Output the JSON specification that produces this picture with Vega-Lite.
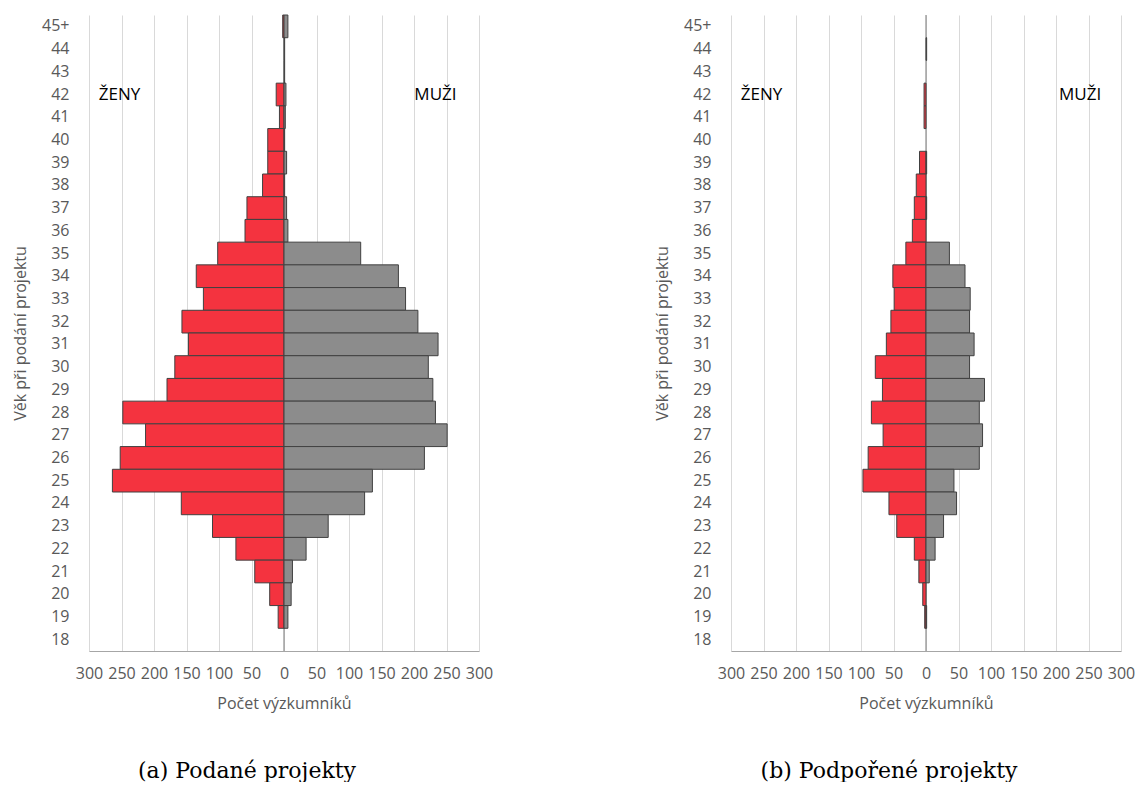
{
  "$schema": "https://vega.github.io/schema/vega-lite/v6.json",
  "background": "white",
  "padding": {"left": 12, "top": 14, "right": 5, "bottom": 0},
  "spacing": 161,
  "datasets": {
    "podane": [
      {"vek": "45+", "zeny": -2, "muzi": 6},
      {"vek": "44", "zeny": 0, "muzi": 1},
      {"vek": "43", "zeny": 0, "muzi": 1},
      {"vek": "42", "zeny": -12, "muzi": 3},
      {"vek": "41", "zeny": -7, "muzi": 2},
      {"vek": "40", "zeny": -25, "muzi": 1},
      {"vek": "39", "zeny": -25, "muzi": 4},
      {"vek": "38", "zeny": -33, "muzi": 1},
      {"vek": "37", "zeny": -57, "muzi": 4},
      {"vek": "36", "zeny": -60, "muzi": 6},
      {"vek": "35", "zeny": -102, "muzi": 118},
      {"vek": "34", "zeny": -135, "muzi": 176},
      {"vek": "33", "zeny": -124, "muzi": 187},
      {"vek": "32", "zeny": -157, "muzi": 206},
      {"vek": "31", "zeny": -147, "muzi": 237},
      {"vek": "30", "zeny": -168, "muzi": 222},
      {"vek": "29", "zeny": -180, "muzi": 229},
      {"vek": "28", "zeny": -248, "muzi": 233},
      {"vek": "27", "zeny": -213, "muzi": 251},
      {"vek": "26", "zeny": -252, "muzi": 216},
      {"vek": "25", "zeny": -264, "muzi": 136},
      {"vek": "24", "zeny": -158, "muzi": 124},
      {"vek": "23", "zeny": -110, "muzi": 68},
      {"vek": "22", "zeny": -74, "muzi": 34},
      {"vek": "21", "zeny": -45, "muzi": 13},
      {"vek": "20", "zeny": -22, "muzi": 11},
      {"vek": "19", "zeny": -9, "muzi": 6},
      {"vek": "18", "zeny": 0, "muzi": 0}
    ],
    "podporene": [
      {"vek": "45+", "zeny": 0, "muzi": 0},
      {"vek": "44", "zeny": 0, "muzi": 1},
      {"vek": "43", "zeny": 0, "muzi": 0},
      {"vek": "42", "zeny": -3, "muzi": 0},
      {"vek": "41", "zeny": -3, "muzi": 0},
      {"vek": "40", "zeny": 0, "muzi": 0},
      {"vek": "39", "zeny": -10, "muzi": 1},
      {"vek": "38", "zeny": -15, "muzi": 0},
      {"vek": "37", "zeny": -18, "muzi": 1},
      {"vek": "36", "zeny": -21, "muzi": 0},
      {"vek": "35", "zeny": -31, "muzi": 36},
      {"vek": "34", "zeny": -51, "muzi": 60},
      {"vek": "33", "zeny": -49, "muzi": 68},
      {"vek": "32", "zeny": -54, "muzi": 67},
      {"vek": "31", "zeny": -61, "muzi": 74},
      {"vek": "30", "zeny": -78, "muzi": 67},
      {"vek": "29", "zeny": -67, "muzi": 90},
      {"vek": "28", "zeny": -84, "muzi": 82},
      {"vek": "27", "zeny": -66, "muzi": 87},
      {"vek": "26", "zeny": -89, "muzi": 82},
      {"vek": "25", "zeny": -97, "muzi": 43},
      {"vek": "24", "zeny": -57, "muzi": 47},
      {"vek": "23", "zeny": -45, "muzi": 27},
      {"vek": "22", "zeny": -18, "muzi": 14},
      {"vek": "21", "zeny": -11, "muzi": 5},
      {"vek": "20", "zeny": -5, "muzi": 0},
      {"vek": "19", "zeny": -2, "muzi": 1},
      {"vek": "18", "zeny": 0, "muzi": 0}
    ]
  },
  "hconcat": [
    {
      "width": 390,
      "height": 636,
      "title": {"text": "(a) Podané projekty"},
      "data": {"name": "podane"},
      "layer": [
        {
          "data": {"values": [{"osa": 0}]},
          "mark": {"type": "rule", "color": "#8c8c8c", "strokeWidth": 1.2},
          "encoding": {
            "x": {"field": "osa", "type": "quantitative", "scale": {"domain": [-300, 300], "nice": false, "zero": false}, "axis": {"title": "Počet výzkumníků", "values": [-300, -250, -200, -150, -100, -50, 0, 50, 100, 150, 200, 250, 300], "labelExpr": "abs(datum.value)", "grid": true, "gridColor": "#d9d9d9", "ticks": false, "domainColor": "#a6a6a6", "labelFlush": false, "labelOverlap": false, "labelPadding": 14, "titlePadding": 14}}
          }
        },
        {
          "transform": [{"filter": "datum.zeny != 0"}],
          "mark": {"type": "bar", "color": "#F4333F", "stroke": "#404040", "strokeWidth": 1},
          "encoding": {
            "y": {"field": "vek", "type": "ordinal", "scale": {"domain": ["45+", "44", "43", "42", "41", "40", "39", "38", "37", "36", "35", "34", "33", "32", "31", "30", "29", "28", "27", "26", "25", "24", "23", "22", "21", "20", "19", "18"], "paddingInner": 0, "paddingOuter": 0}, "axis": {"title": "Věk při podání projektu", "ticks": false, "domain": false, "labelPadding": 20, "titlePadding": 13}},
            "x": {"field": "zeny", "type": "quantitative", "scale": {"domain": [-300, 300], "nice": false, "zero": false}, "axis": {"title": "Počet výzkumníků", "values": [-300, -250, -200, -150, -100, -50, 0, 50, 100, 150, 200, 250, 300], "labelExpr": "abs(datum.value)", "grid": true, "gridColor": "#d9d9d9", "ticks": false, "domainColor": "#a6a6a6", "labelFlush": false, "labelOverlap": false, "labelPadding": 14, "titlePadding": 14}}
          }
        },
        {
          "transform": [{"filter": "datum.muzi != 0"}],
          "mark": {"type": "bar", "color": "#8C8C8C", "stroke": "#404040", "strokeWidth": 1},
          "encoding": {
            "y": {"field": "vek", "type": "ordinal", "scale": {"domain": ["45+", "44", "43", "42", "41", "40", "39", "38", "37", "36", "35", "34", "33", "32", "31", "30", "29", "28", "27", "26", "25", "24", "23", "22", "21", "20", "19", "18"], "paddingInner": 0, "paddingOuter": 0}, "axis": {"title": "Věk při podání projektu", "ticks": false, "domain": false, "labelPadding": 20, "titlePadding": 13}},
            "x": {"field": "muzi", "type": "quantitative", "scale": {"domain": [-300, 300], "nice": false, "zero": false}, "axis": {"title": "Počet výzkumníků", "values": [-300, -250, -200, -150, -100, -50, 0, 50, 100, 150, 200, 250, 300], "labelExpr": "abs(datum.value)", "grid": true, "gridColor": "#d9d9d9", "ticks": false, "domainColor": "#a6a6a6", "labelFlush": false, "labelOverlap": false, "labelPadding": 14, "titlePadding": 14}}
          }
        },
        {
          "data": {"values": [{"popis": "ŽENY", "vek": "42", "poloha": -253}, {"popis": "MUŽI", "vek": "42", "poloha": 233}]},
          "mark": {"type": "text", "font": "Open Sans", "fontSize": 17, "color": "black", "align": "center", "baseline": "middle"},
          "encoding": {
            "text": {"field": "popis"},
            "y": {"field": "vek", "type": "ordinal", "scale": {"domain": ["45+", "44", "43", "42", "41", "40", "39", "38", "37", "36", "35", "34", "33", "32", "31", "30", "29", "28", "27", "26", "25", "24", "23", "22", "21", "20", "19", "18"], "paddingInner": 0, "paddingOuter": 0}, "axis": {"title": "Věk při podání projektu", "ticks": false, "domain": false, "labelPadding": 20, "titlePadding": 13}},
            "x": {"field": "poloha", "type": "quantitative", "scale": {"domain": [-300, 300], "nice": false, "zero": false}, "axis": {"title": "Počet výzkumníků", "values": [-300, -250, -200, -150, -100, -50, 0, 50, 100, 150, 200, 250, 300], "labelExpr": "abs(datum.value)", "grid": true, "gridColor": "#d9d9d9", "ticks": false, "domainColor": "#a6a6a6", "labelFlush": false, "labelOverlap": false, "labelPadding": 14, "titlePadding": 14}}
          }
        }
      ]
    },
    {
      "width": 390,
      "height": 636,
      "title": {"text": "(b) Podpořené projekty"},
      "data": {"name": "podporene"},
      "layer": [
        {
          "data": {"values": [{"osa": 0}]},
          "mark": {"type": "rule", "color": "#8c8c8c", "strokeWidth": 1.2},
          "encoding": {
            "x": {"field": "osa", "type": "quantitative", "scale": {"domain": [-300, 300], "nice": false, "zero": false}, "axis": {"title": "Počet výzkumníků", "values": [-300, -250, -200, -150, -100, -50, 0, 50, 100, 150, 200, 250, 300], "labelExpr": "abs(datum.value)", "grid": true, "gridColor": "#d9d9d9", "ticks": false, "domainColor": "#a6a6a6", "labelFlush": false, "labelOverlap": false, "labelPadding": 14, "titlePadding": 14}}
          }
        },
        {
          "transform": [{"filter": "datum.zeny != 0"}],
          "mark": {"type": "bar", "color": "#F4333F", "stroke": "#404040", "strokeWidth": 1},
          "encoding": {
            "y": {"field": "vek", "type": "ordinal", "scale": {"domain": ["45+", "44", "43", "42", "41", "40", "39", "38", "37", "36", "35", "34", "33", "32", "31", "30", "29", "28", "27", "26", "25", "24", "23", "22", "21", "20", "19", "18"], "paddingInner": 0, "paddingOuter": 0}, "axis": {"title": "Věk při podání projektu", "ticks": false, "domain": false, "labelPadding": 20, "titlePadding": 13}},
            "x": {"field": "zeny", "type": "quantitative", "scale": {"domain": [-300, 300], "nice": false, "zero": false}, "axis": {"title": "Počet výzkumníků", "values": [-300, -250, -200, -150, -100, -50, 0, 50, 100, 150, 200, 250, 300], "labelExpr": "abs(datum.value)", "grid": true, "gridColor": "#d9d9d9", "ticks": false, "domainColor": "#a6a6a6", "labelFlush": false, "labelOverlap": false, "labelPadding": 14, "titlePadding": 14}}
          }
        },
        {
          "transform": [{"filter": "datum.muzi != 0"}],
          "mark": {"type": "bar", "color": "#8C8C8C", "stroke": "#404040", "strokeWidth": 1},
          "encoding": {
            "y": {"field": "vek", "type": "ordinal", "scale": {"domain": ["45+", "44", "43", "42", "41", "40", "39", "38", "37", "36", "35", "34", "33", "32", "31", "30", "29", "28", "27", "26", "25", "24", "23", "22", "21", "20", "19", "18"], "paddingInner": 0, "paddingOuter": 0}, "axis": {"title": "Věk při podání projektu", "ticks": false, "domain": false, "labelPadding": 20, "titlePadding": 13}},
            "x": {"field": "muzi", "type": "quantitative", "scale": {"domain": [-300, 300], "nice": false, "zero": false}, "axis": {"title": "Počet výzkumníků", "values": [-300, -250, -200, -150, -100, -50, 0, 50, 100, 150, 200, 250, 300], "labelExpr": "abs(datum.value)", "grid": true, "gridColor": "#d9d9d9", "ticks": false, "domainColor": "#a6a6a6", "labelFlush": false, "labelOverlap": false, "labelPadding": 14, "titlePadding": 14}}
          }
        },
        {
          "data": {"values": [{"popis": "ŽENY", "vek": "42", "poloha": -253}, {"popis": "MUŽI", "vek": "42", "poloha": 237}]},
          "mark": {"type": "text", "font": "Open Sans", "fontSize": 17, "color": "black", "align": "center", "baseline": "middle"},
          "encoding": {
            "text": {"field": "popis"},
            "y": {"field": "vek", "type": "ordinal", "scale": {"domain": ["45+", "44", "43", "42", "41", "40", "39", "38", "37", "36", "35", "34", "33", "32", "31", "30", "29", "28", "27", "26", "25", "24", "23", "22", "21", "20", "19", "18"], "paddingInner": 0, "paddingOuter": 0}, "axis": {"title": "Věk při podání projektu", "ticks": false, "domain": false, "labelPadding": 20, "titlePadding": 13}},
            "x": {"field": "poloha", "type": "quantitative", "scale": {"domain": [-300, 300], "nice": false, "zero": false}, "axis": {"title": "Počet výzkumníků", "values": [-300, -250, -200, -150, -100, -50, 0, 50, 100, 150, 200, 250, 300], "labelExpr": "abs(datum.value)", "grid": true, "gridColor": "#d9d9d9", "ticks": false, "domainColor": "#a6a6a6", "labelFlush": false, "labelOverlap": false, "labelPadding": 14, "titlePadding": 14}}
          }
        }
      ]
    }
  ],
  "config": {
    "font": "Open Sans",
    "view": {"stroke": null},
    "axis": {"labelFont": "Open Sans", "labelFontSize": 16, "labelColor": "#595959", "titleFont": "Open Sans", "titleFontSize": 16, "titleColor": "#595959", "titleFontWeight": "normal"},
    "title": {"orient": "bottom", "anchor": "middle", "font": "DejaVu Serif", "fontSize": 22, "fontWeight": "normal", "color": "black", "offset": 50, "dx": -37}
  }
}
